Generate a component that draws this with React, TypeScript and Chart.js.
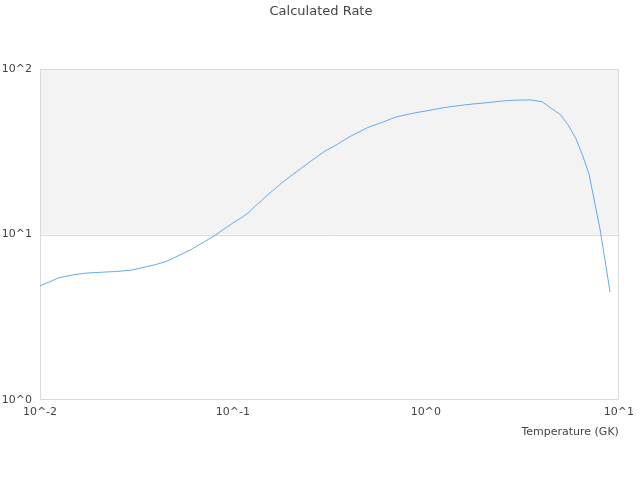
import React, { useEffect, useRef } from "react";
import { Chart, registerables } from "chart.js";

Chart.register(...registerables);

const temperatures = [
  0.01, 0.0125, 0.015, 0.0175, 0.02, 0.025, 0.03, 0.035, 0.04, 0.045, 0.05,
  0.06, 0.07, 0.08, 0.09, 0.1, 0.11, 0.12, 0.13, 0.14, 0.15, 0.16, 0.18, 0.2,
  0.25, 0.3, 0.35, 0.4, 0.45, 0.5, 0.6, 0.7, 0.8, 0.9, 1, 1.25, 1.5, 1.75, 2,
  2.5, 3, 3.5, 4, 5, 5.5, 6, 6.5, 7, 8, 9,
];

const rates = [
  4.89, 5.47, 5.72, 5.85, 5.9, 5.98, 6.1, 6.36, 6.59, 6.87, 7.28, 8.05, 8.95,
  9.8, 10.8, 11.74, 12.58, 13.49, 14.8, 15.94, 17.2, 18.32, 20.59, 22.63,
  27.43, 31.96, 35.23, 38.83, 41.63, 44.31, 47.84, 51.29, 53.11, 54.61, 55.76,
  58.54, 60.19, 61.45, 62.32, 64.07, 64.97, 64.97, 63.4, 52.74, 45.25, 37.76,
  29.81, 23.2, 10.65, 4.49,
];

const xTickValues = [0.01, 0.1, 1, 10];
const yTickValues = [1, 10, 100];

const chartTitle = "Calculated Rate";
const xAxisTitle = "Temperature (GK)";

const fmtPow = (v: number) => "10^" + Math.round(Math.log10(v));

const bandPlugin = {
  id: "bandPlugin",
  beforeDatasetsDraw(chart: any) {
    const { ctx, chartArea, scales } = chart;
    const y = scales.y;
    const yTop = y.getPixelForValue(100);
    const yMid = y.getPixelForValue(10);
    ctx.save();
    ctx.fillStyle = "#f3f3f3";
    ctx.fillRect(chartArea.left, yTop, chartArea.right - chartArea.left, yMid - yTop);
    ctx.strokeStyle = "#dadada";
    ctx.lineWidth = 1;
    ctx.beginPath();
    const l = Math.round(chartArea.left) + 0.5;
    const r = Math.round(chartArea.right) - 0.5;
    const t = Math.round(chartArea.top) + 0.5;
    const b = Math.round(chartArea.bottom) - 0.5;
    ctx.rect(l, t, r - l, b - t);
    const m = Math.round(yMid) + 0.5;
    ctx.moveTo(l, m);
    ctx.lineTo(r, m);
    ctx.stroke();
    ctx.restore();
  },
};

const titlePlugin = {
  id: "titlePlugin",
  afterDraw(chart: any) {
    const { ctx } = chart;
    ctx.save();
    ctx.fillStyle = "#444";
    ctx.font = "13px 'DejaVu Sans', sans-serif";
    ctx.textAlign = "center";
    ctx.textBaseline = "middle";
    ctx.fillText(chartTitle, 321, 12);
    ctx.restore();
  },
};

export default function App() {
  const canvasRef = useRef<HTMLCanvasElement | null>(null);

  useEffect(() => {
    document.body.style.margin = "0";
    const canvas = canvasRef.current;
    if (!canvas) return;
    Chart.defaults.font.family = "'DejaVu Sans', sans-serif";
    const chart = new Chart(canvas, {
      type: "line",
      data: {
        datasets: [
          {
            data: temperatures.map((t, i) => ({ x: t, y: rates[i] })),
            borderColor: "#64aaf0",
            borderWidth: 1,
            pointRadius: 0,
            tension: 0,
            fill: false,
          },
        ],
      },
      options: {
        animation: false,
        responsive: false,
        layout: { padding: { left: 0, right: 20, top: 69, bottom: 0 } },
        plugins: {
          legend: { display: false },
          tooltip: { enabled: false },
          title: { display: false },
        },
        scales: {
          x: {
            type: "logarithmic",
            min: 0.01,
            max: 10,
            grid: { display: false, drawTicks: false },
            border: { display: false },
            afterBuildTicks: (scale: any) => {
              scale.ticks = xTickValues.map((v) => ({ value: v }));
            },
            afterFit: (scale: any) => {
              scale.height = 80;
            },
            ticks: {
              color: "#444",
              font: { size: 11 },
              padding: 6,
              maxRotation: 0,
              autoSkip: false,
              callback: (v: any) => fmtPow(Number(v)),
            },
            title: {
              display: true,
              text: xAxisTitle,
              align: "end",
              color: "#444",
              font: { size: 11 },
              padding: { top: 4, bottom: 41 },
            },
          },
          y: {
            type: "logarithmic",
            min: 1,
            max: 100,
            grid: { display: false, drawTicks: false },
            border: { display: false },
            afterBuildTicks: (scale: any) => {
              scale.ticks = yTickValues.map((v) => ({ value: v }));
            },
            afterFit: (scale: any) => {
              scale.width = 40;
            },
            ticks: {
              color: "#444",
              font: { size: 11 },
              padding: 8,
              autoSkip: false,
              callback: (v: any) => fmtPow(Number(v)),
            },
          },
        },
      },
      plugins: [bandPlugin, titlePlugin],
    } as any);
    return () => chart.destroy();
  }, []);

  return (
    <div style={{ width: 640, height: 480 }}>
      <canvas ref={canvasRef} width={640} height={480} style={{ display: "block" }} />
    </div>
  );
}
